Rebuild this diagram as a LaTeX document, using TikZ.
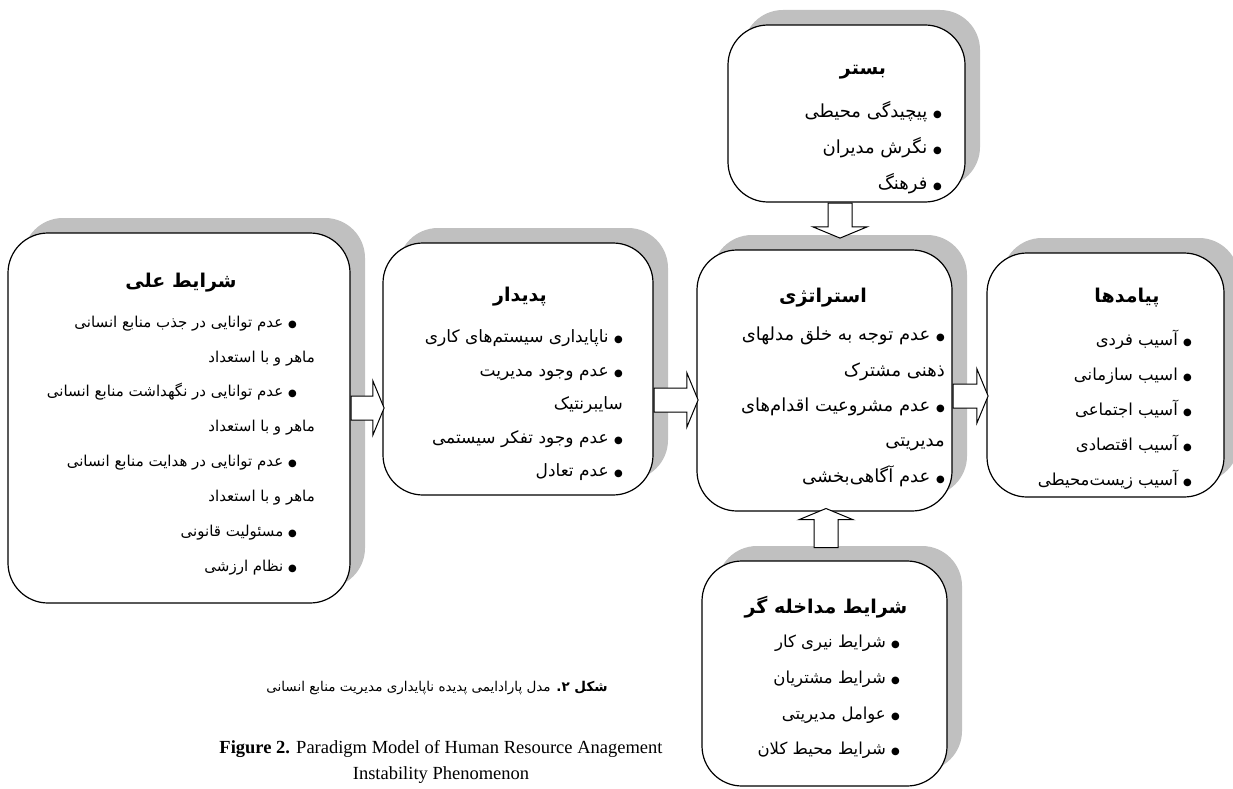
\documentclass[tikz,border=0pt]{standalone}
\usepackage{fontspec}
\setmainfont{Liberation Serif}
\newfontfamily\farsi[Script=Arabic]{DejaVu Sans}
\TeXXeTstate=1
\usetikzlibrary{positioning,shapes.arrows,shadows}

\definecolor{shade}{RGB}{192,192,192}
\newcommand{\rl}[1]{\beginR#1\endR}
\newcommand{\bul}{{\fontsize{10}{10}\selectfont ●}\ }

\begin{document}
\begin{tikzpicture}[x=1pt,y=-1pt,
    card/.style={draw=black,fill=white,line width=1.2pt,rounded corners=40pt,inner sep=0pt,
      drop shadow={shadow xshift=15pt,shadow yshift=15pt,fill=shade,opacity=1}},
    head/.style={font=\farsi\bfseries\fontsize{19}{23}\selectfont,inner sep=0pt},
    items/.style={font=\farsi\fontsize{16.5}{35}\selectfont,align=right,anchor=north east,inner sep=0pt},
    fat/.style={single arrow,draw=black,fill=white,line width=1pt,inner xsep=0pt,inner ysep=11.5pt,
      single arrow head extend=15pt,single arrow tip angle=135,anchor=tail},
    fatv/.style={fat,inner xsep=11.5pt,inner ysep=0pt}]
  \useasboundingbox (0,0) rectangle (1233,789);

  % boxes
  \node[card,minimum width=342pt,minimum height=370pt] (cause)   at (179,418)   {};
  \node[card,minimum width=270pt,minimum height=252pt] (phen)    at (518,369)   {};
  \node[card,minimum width=255pt,minimum height=261pt] (strat)   at (824.5,380.5) {};
  \node[card,minimum width=237pt,minimum height=177pt] (context) at (846.5,113.5) {};
  \node[card,minimum width=237pt,minimum height=244pt] (result)  at (1105.5,375) {};
  \node[card,minimum width=245pt,minimum height=225pt] (inter)   at (824.5,673.5) {};

  % block arrows
  \node[fat,minimum height=33pt] (a1) at (cause.east |- 0,408) {};
  \node[fat,minimum height=44pt] (a2) at (phen.east |- 0,400) {};
  \node[fat,minimum height=35pt] (a3) at (strat.east |- 0,396) {};
  \node[fatv,minimum height=35pt,shape border rotate=270] (a4) at (840,0 |- context.south) {};
  \node[fatv,minimum height=39pt,shape border rotate=90] (a5) at (826,548) {};

  % titles
  \node[head] (cause-t)   at (181,283)  {\rl{شرایط علی}};
  \node[head] (phen-t)    at (520,297)  {\rl{پدیدار}};
  \node[head] (strat-t)   at (823,298)  {\rl{استراتژی}};
  \node[head] (context-t) at (863,72)   {\rl{بستر}};
  \node[head] (result-t)  at (1127,298) {\rl{پیامدها}};
  \node[head] (inter-t)   at (826,607)  {\rl{شرایط مداخله گر}};

  % items
  \node[items,font=\farsi\fontsize{15}{34.9}\selectfont] (cause-i) at (315,315.5) {%
    \rl{\hspace*{18pt}\bul عدم توانایی در جذب منابع انسانی}\\
    \rl{ماهر و با استعداد}\\
    \rl{\hspace*{18pt}\bul عدم توانایی در نگهداشت منابع انسانی}\\
    \rl{ماهر و با استعداد}\\
    \rl{\hspace*{18pt}\bul عدم توانایی در هدایت منابع انسانی}\\
    \rl{ماهر و با استعداد}\\
    \rl{\hspace*{18pt}\bul مسئولیت قانونی}\\
    \rl{\hspace*{18pt}\bul نظام ارزشی}};
  \node[items,font=\farsi\fontsize{17}{33.5}\selectfont] (phen-i) at (623,329.5) {%
    \rl{\bul ناپایداری سیستم‌های کاری}\\
    \rl{\bul عدم وجود مدیریت}\\
    \rl{سایبرنتیک}\\
    \rl{\bul عدم وجود تفکر سیستمی}\\
    \rl{\bul عدم تعادل}};
  \node[items,font=\farsi\fontsize{18}{35.3}\selectfont] (strat-i) at (945,327) {%
    \rl{\bul عدم توجه به خلق مدلهای}\\
    \rl{ذهنی مشترک}\\
    \rl{\bul عدم مشروعیت اقدام‌های}\\
    \rl{مدیریتی}\\
    \rl{\bul عدم آگاهی‌بخشی}};
  \node[items,font=\farsi\fontsize{18}{36}\selectfont] (context-i) at (942,101) {%
    \rl{\bul پیچیدگی محیطی}\\
    \rl{\bul نگرش مدیران}\\
    \rl{\bul فرهنگ}};
  \node[items] (result-i) at (1192,330) {%
    \rl{\bul آسیب فردی}\\
    \rl{\bul اسیب سازمانی}\\
    \rl{\bul آسیب اجتماعی}\\
    \rl{\bul آسیب اقتصادی}\\
    \rl{\bul آسیب زیست‌محیطی}};
  \node[items,font=\farsi\fontsize{16.5}{35.7}\selectfont] (inter-i) at (900,635) {%
    \rl{\bul شرایط نیری کار}\\
    \rl{\bul شرایط مشتریان}\\
    \rl{\bul عوامل مدیریتی}\\
    \rl{\bul شرایط محیط کلان}};

  % caption
  \node[font=\farsi\fontsize{13.5}{16}\selectfont] (cap-fa) at (437,688)
    {\rl{\textbf{شکل ۲.} مدل پارادایمی پدیده ناپایداری مدیریت منابع انسانی}};
  \node[font=\fontsize{18.5}{26}\selectfont,align=center,anchor=north] (cap-en) at (441,737)
    {\textbf{Figure 2.} Paradigm Model of Human Resource Anagement\\Instability Phenomenon};
\end{tikzpicture}
\end{document}
